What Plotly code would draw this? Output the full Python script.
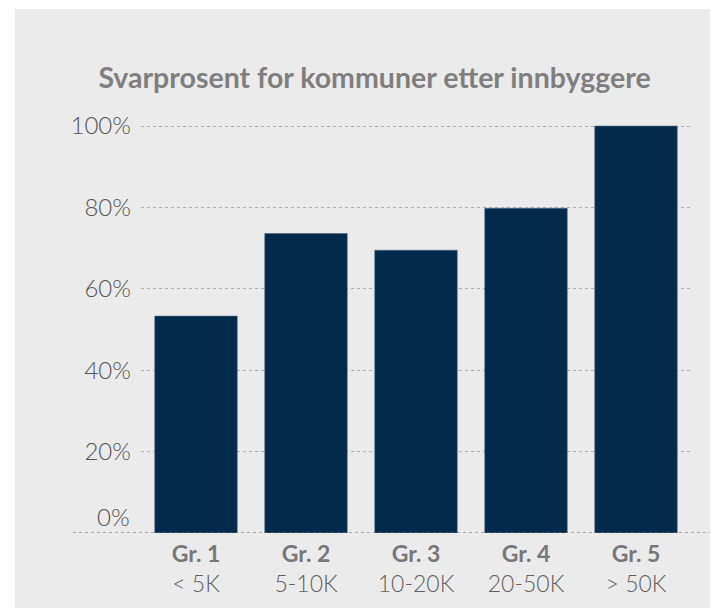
import plotly.graph_objects as go

groups = ["Gr. 1", "Gr. 2", "Gr. 3", "Gr. 4", "Gr. 5"]
sizes = ["&lt; 5K", "5-10K", "10-20K", "20-50K", "&gt; 50K"]
response_pct = [53.3, 73.6, 69.5, 79.8, 100.0]
y_ticks = [20, 40, 60, 80, 100]
y_tick_labels = ["20%", "40%", "60%", "80%", "100%"]
title_text = "Svarprosent for kommuner etter innbyggere"

W, H = 718, 610
Y_MAX = 101
y0_px, y100_px = 525, 118
ph = (y0_px - y100_px) * Y_MAX / 100
L, R = 133, 35
B = H - y0_px
T = H - B - ph
pw = W - L - R

def px_x(x):
    return (x - L) / pw

def px_y(y):
    return (H - B - y) / ph

ticktext = [f"<b>{g}</b><br><span style='font-weight:300;fill:#5f5f5f'>{s}</span>"
            for g, s in zip(groups, sizes)]

fig = go.Figure(go.Bar(
    x=list(range(len(groups))),
    y=response_pct,
    marker=dict(color="#03294b", line=dict(color="#4d6a86", width=0.6)),
    width=0.75,
    hoverinfo="skip",
))

fig.update_layout(
    width=W, height=H,
    margin=dict(l=L, r=R, t=T, b=B, pad=0),
    paper_bgcolor="white",
    plot_bgcolor="rgba(0,0,0,0)",
    showlegend=False,
    font=dict(family="Lato", color="#666666"),
    title=dict(
        text=f"<b>{title_text}</b>",
        x=366.5 / W, xref="container", xanchor="center",
        y=1 - 70 / H, yref="container", yanchor="middle",
        font=dict(family="Lato", size=28.5, color="#7f7f7f"),
    ),
    xaxis=dict(
        range=[-0.5, 4.5],
        tickvals=list(range(len(groups))),
        ticktext=ticktext,
        showgrid=False, zeroline=False, showline=False,
        ticks="", ticklabelstandoff=5,
        tickfont=dict(family="Lato", size=23, color="#777777"),
        fixedrange=True,
    ),
    yaxis=dict(
        range=[0, Y_MAX],
        tickvals=y_ticks,
        ticktext=y_tick_labels,
        showgrid=True, gridcolor="#b0b0b0", gridwidth=1, griddash="dot",
        zeroline=False, showline=False,
        ticks="", ticklabelstandoff=9,
        tickfont=dict(family="Lato", size=24, color="#555555", weight=300),
        fixedrange=True,
    ),
    shapes=[
        dict(type="rect", xref="paper", yref="paper", layer="below",
             x0=px_x(7), x1=px_x(730), y0=px_y(600), y1=px_y(1),
             fillcolor="#ebebeb", line=dict(width=0)),
        dict(type="line", xref="paper", yref="y", layer="above",
             x0=px_x(65), x1=px_x(703), y0=0, y1=0,
             line=dict(color="#666666", width=1, dash="dot")),
    ],
    annotations=[
        dict(text="0%", xref="paper", yref="y", x=px_x(124), y=0,
             xanchor="right", yanchor="bottom", yshift=0, showarrow=False,
             font=dict(family="Lato", size=24, color="#555555", weight=300)),
    ],
)

fig.write_html("out.html")
